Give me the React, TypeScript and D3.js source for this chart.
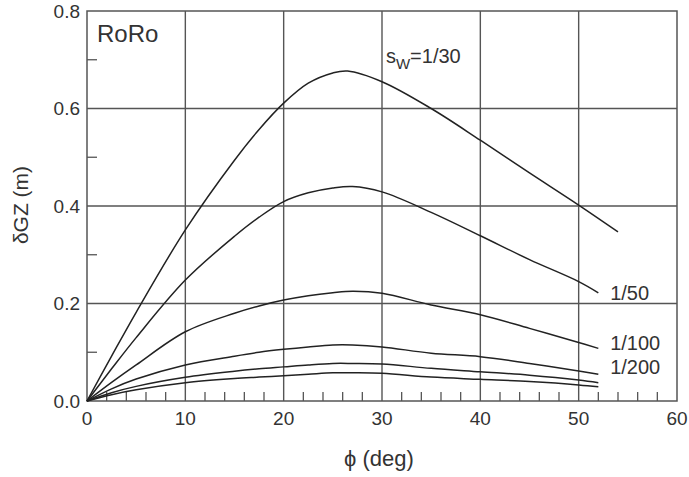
import React from "react";
import * as d3 from "d3";

// Heel angle samples (deg)
const phiMain = [0, 2.5, 5, 10, 15, 17.5, 20, 22.5, 25, 27, 30, 35, 40, 45, 50, 52];
const phi30 = [0, 2.5, 5, 10, 15, 17.5, 20, 22.5, 25, 26.5, 30, 35, 40, 45, 50, 54];

// δGZ (m) for each wave steepness curve
const gz30 = [0, 0.092, 0.182, 0.351, 0.494, 0.557, 0.611, 0.652, 0.673, 0.677, 0.655, 0.6, 0.535, 0.468, 0.402, 0.347];
const gz50 = [0, 0.066, 0.13, 0.248, 0.338, 0.377, 0.409, 0.427, 0.437, 0.44, 0.429, 0.387, 0.339, 0.29, 0.245, 0.222];
const gz100 = [0, 0.038, 0.074, 0.142, 0.18, 0.195, 0.207, 0.216, 0.222, 0.225, 0.221, 0.197, 0.177, 0.149, 0.12, 0.108];
const gz200 = [0, 0.025, 0.045, 0.074, 0.092, 0.1, 0.106, 0.111, 0.115, 0.115, 0.111, 0.098, 0.091, 0.077, 0.0615, 0.055];
const gzD = [0, 0.017, 0.03, 0.0486, 0.061, 0.066, 0.07, 0.074, 0.077, 0.077, 0.076, 0.067, 0.06, 0.053, 0.043, 0.0375];
const gzE = [0, 0.013, 0.023, 0.0375, 0.046, 0.049, 0.052, 0.055, 0.058, 0.058, 0.057, 0.049, 0.0445, 0.04, 0.033, 0.029];

// End labels: text and anchor (phi, δGZ) of the baseline start
const endLabels = ["1/50", "1/100", "1/200"];
const endLabelPhi = [53.2, 53.2, 53.2];
const endLabelGZ = [0.207, 0.105, 0.055];

const xTicks = [0, 10, 20, 30, 40, 50, 60];
const yTicks = [0, 0.2, 0.4, 0.6, 0.8];
const xMinor = d3.range(2, 60, 2).filter((v) => v % 10 !== 0);
const yMinor = [0.1, 0.3, 0.5, 0.7];

const W = 689;
const H = 477;
const left = 87;
const right = 677;
const top = 11;
const bottom = 401;

const FONT = "'Liberation Sans', Arial, Helvetica, sans-serif";
const GRID = "#555";
const INK = "#222";
const TXT = "#333";

export default function App() {
  const x = d3.scaleLinear().domain([0, 60]).range([left, right]);
  const y = d3.scaleLinear().domain([0, 0.8]).range([bottom, top]);

  const line = d3
    .line<[number, number]>()
    .x((d) => x(d[0]))
    .y((d) => y(d[1]))
    .curve(d3.curveCatmullRom.alpha(0.5));

  const series: [number[], number[]][] = [
    [phi30, gz30],
    [phiMain, gz50],
    [phiMain, gz100],
    [phiMain, gz200],
    [phiMain, gzD],
    [phiMain, gzE],
  ];

  return (
    <svg
      width={W}
      height={H}
      viewBox={`0 0 ${W} ${H}`}
      style={{ position: "absolute", left: 0, top: 0, background: "#fff" }}
      fontFamily={FONT}
    >
      <rect x={0} y={0} width={W} height={H} fill="#fff" />

      {/* grid */}
      {xTicks.slice(1, -1).map((t) => (
        <line key={"gx" + t} x1={x(t)} x2={x(t)} y1={top} y2={bottom} stroke={GRID} strokeWidth={1.4} />
      ))}
      {yTicks.slice(1, -1).map((t) => (
        <line key={"gy" + t} x1={left} x2={right} y1={y(t)} y2={y(t)} stroke={GRID} strokeWidth={1.4} />
      ))}

      {/* minor ticks */}
      {xMinor.map((t) => (
        <line key={"mx" + t} x1={x(t)} x2={x(t)} y1={bottom} y2={bottom - 9} stroke={GRID} strokeWidth={1.3} />
      ))}
      {yMinor.map((t) => (
        <line key={"my" + t} x1={left} x2={left + 10} y1={y(t)} y2={y(t)} stroke={GRID} strokeWidth={1.3} />
      ))}

      {/* frame */}
      <rect x={left} y={top} width={right - left} height={bottom - top} fill="none" stroke={GRID} strokeWidth={1.5} />

      {/* curves */}
      {series.map(([xs, ys], i) => (
        <path
          key={"s" + i}
          d={line(xs.map((v, j) => [v, ys[j]] as [number, number])) || ""}
          fill="none"
          stroke={INK}
          strokeWidth={1.5}
        />
      ))}

      {/* tick labels */}
      {xTicks.map((t) => (
        <text key={"tx" + t} x={x(t)} y={425} textAnchor="middle" fontSize={19} fill={TXT}>
          {t}
        </text>
      ))}
      {yTicks.map((t) => (
        <text key={"ty" + t} x={80} y={y(t)} dy="0.35em" textAnchor="end" fontSize={19} fill={TXT}>
          {t.toFixed(1)}
        </text>
      ))}

      {/* axis titles */}
      <text x={379} y={466} textAnchor="middle" fontSize={22} fill={TXT}>
        ϕ (deg)
      </text>
      <text
        transform={`translate(28,205) rotate(-90)`}
        textAnchor="middle"
        fontSize={21}
        fill={TXT}
      >
        δGZ (m)
      </text>

      {/* panel title */}
      <text x={97} y={42} fontSize={24} fill={TXT}>
        RoRo
      </text>

      {/* curve labels */}
      <text x={x(30.4)} y={y(0.693)} fontSize={20} fill={TXT}>
        s
        <tspan fontSize={15} dy={6}>
          W
        </tspan>
        <tspan dy={-6}>=1/30</tspan>
      </text>
      {endLabels.map((lab, i) => (
        <text key={lab} x={x(endLabelPhi[i])} y={y(endLabelGZ[i])} fontSize={20} fill={TXT}>
          {lab}
        </text>
      ))}
    </svg>
  );
}
